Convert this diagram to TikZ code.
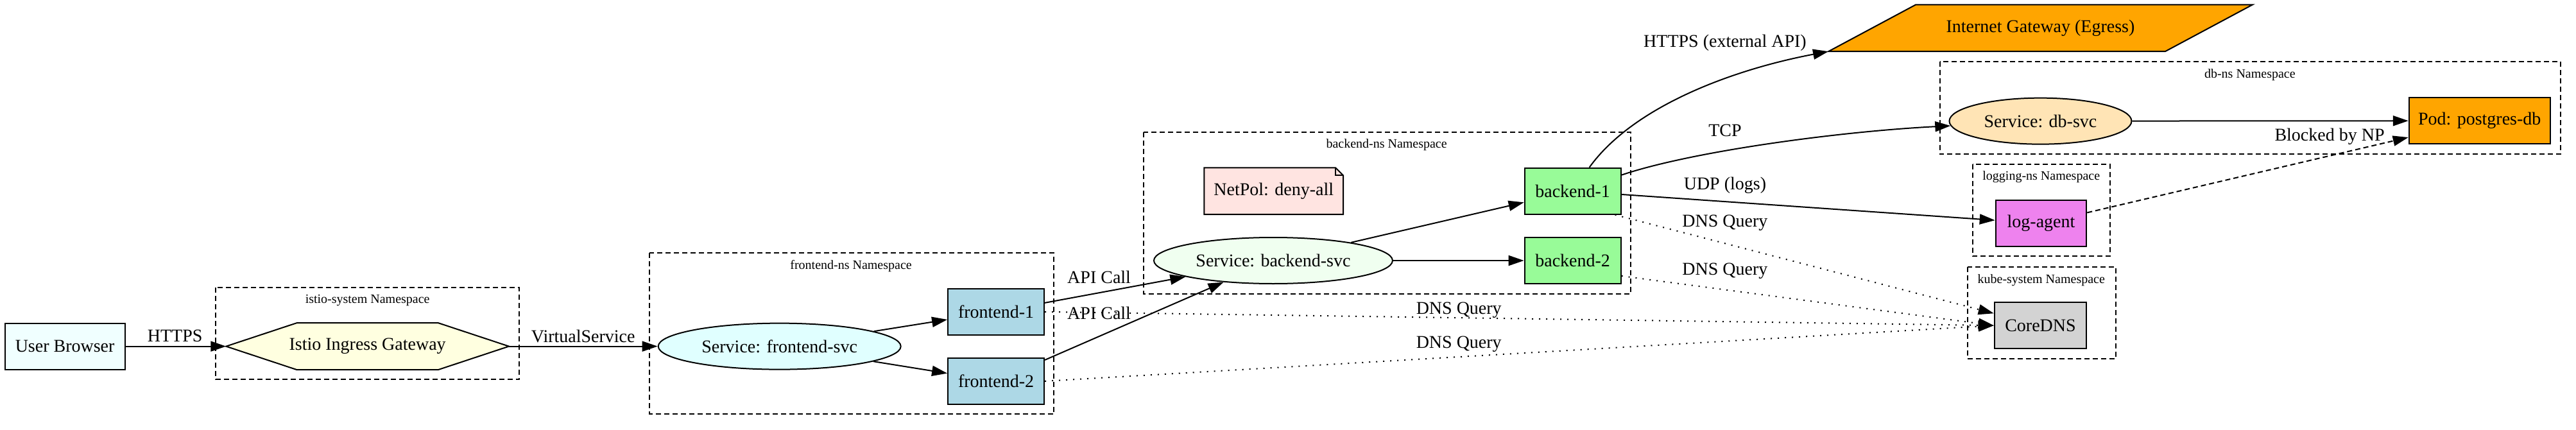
\documentclass[tikz,border=0pt]{standalone}
\usepackage{fontspec}
\setmainfont{Liberation Serif}
\usetikzlibrary{arrows.meta,shapes.geometric,backgrounds}
\definecolor{cAzure}{HTML}{F0FFFF}
\definecolor{cLYellow}{HTML}{FFFFE0}
\definecolor{cLCyan}{HTML}{E0FFFF}
\definecolor{cLBlue}{HTML}{ADD8E6}
\definecolor{cHoney}{HTML}{F0FFF0}
\definecolor{cMisty}{HTML}{FFE4E1}
\definecolor{cPGreen}{HTML}{98FB98}
\definecolor{cOrange}{HTML}{FFA500}
\definecolor{cMocc}{HTML}{FFE4B5}
\definecolor{cViolet}{HTML}{EE82EE}
\definecolor{cLGrey}{HTML}{D3D3D3}
\tikzset{
  every node/.style={font=\fontsize{14}{16}\selectfont},
  pod/.style={draw, line width=1pt, rectangle, minimum height=36pt, inner sep=2pt},
  svc/.style={draw, line width=1pt, ellipse, minimum height=36pt, inner sep=0pt},
  plain/.style={rectangle, minimum height=36pt, inner sep=2pt},
  shapeline/.style={line width=1pt},
  nsbox/.style={draw, line width=1pt, dash pattern=on 4pt off 2.5pt},
  nslabel/.style={font=\fontsize{10}{12}\selectfont, inner sep=0pt},
  elabel/.style={inner sep=0pt},
  edge/.style={line width=1pt, -{Triangle[length=12pt,width=8pt]}},
  dnsedge/.style={edge, dash pattern=on 1pt off 4.5pt},
  blockedge/.style={edge, dash pattern=on 4pt off 2.5pt},
}
\begin{document}
\begin{tikzpicture}[x=1.28pt, y=-1.28pt]
\useasboundingbox (0,0) rectangle (1568,261.7);

% namespaces
\draw[nsbox] (131.3,175) rectangle (316,231);
\node[nslabel] (lIstio) at (223.7,183) {istio-system Namespace};
\draw[nsbox] (395.5,154) rectangle (641.5,252);
\node[nslabel] (lFront) at (518,162) {frontend-ns Namespace};
\draw[nsbox] (696,80.3) rectangle (992.5,178.8);
\node[nslabel] (lBack) at (844,88.3) {backend-ns Namespace};
\draw[nsbox] (1180.7,37.4) rectangle (1558.6,93.8);
\node[nslabel] (lDb) at (1369.5,45.5) {db-ns Namespace};
\draw[nsbox] (1200.8,99.9) rectangle (1284.4,156);
\node[nslabel] (lLog) at (1242.5,107.7) {logging-ns Namespace};
\draw[nsbox] (1197.5,162.4) rectangle (1287.8,218.2);
\node[nslabel] (lKube) at (1242.5,170.6) {kube-system Namespace};

% nodes
\node[pod, fill=cAzure, minimum width=93.5pt] (ub) at (39.5,210.8) {User Browser};
\node[plain, minimum width=220pt] (igw) at (223.7,210.8) {Istio Ingress Gateway};
\node[svc, fill=cLCyan, minimum width=189pt] (fsvc) at (474.5,210.8) {Service: frontend-svc};
\node[pod, fill=cLBlue, minimum width=75pt] (f1) at (606.3,189.8) {frontend-1};
\node[pod, fill=cLBlue, minimum width=75pt] (f2) at (606.3,232) {frontend-2};
\node[plain, minimum width=108pt] (netpol) at (775.3,116.3) {NetPol: deny-all};
\node[svc, fill=cHoney, minimum width=186pt] (bsvc) at (775,158.6) {Service: backend-svc};
\node[pod, fill=cPGreen, minimum width=75pt] (b1) at (957.3,116.3) {backend-1};
\node[pod, fill=cPGreen, minimum width=75pt] (b2) at (957.3,158.6) {backend-2};
\node[plain, minimum width=330pt] (inet) at (1242,17.1) {Internet Gateway (Egress)};
\node[svc, fill=cMocc, minimum width=142pt] (dbsvc) at (1242,73.7) {Service: db-svc};
\node[pod, fill=cOrange, minimum width=110pt] (pg) at (1509.3,73.5) {Pod: postgres-db};
\node[pod, fill=cViolet, minimum width=70.8pt] (log) at (1242.4,136) {log-agent};
\node[pod, fill=cLGrey, minimum width=71.7pt] (dns) at (1242,198.1) {CoreDNS};

% special shapes
\begin{scope}[on background layer]
\filldraw[shapeline, fill=cLYellow] (igw.west) -- ([xshift=55pt]igw.north west) -- ([xshift=-55pt]igw.north east) -- (igw.east) -- ([xshift=-55pt]igw.south east) -- ([xshift=55pt]igw.south west) -- cycle;
\filldraw[shapeline, fill=cMisty] (netpol.south west) -- (netpol.north west) -- ([xshift=-6pt]netpol.north east) -- ([yshift=-6pt]netpol.north east) -- (netpol.south east) -- cycle;
\filldraw[shapeline, fill=cOrange] (inet.south west) -- ([xshift=68pt]inet.north west) -- (inet.north east) -- ([xshift=-68pt]inet.south east) -- cycle;
\end{scope}
\draw[shapeline] ([xshift=-6pt]netpol.north east) -- ([xshift=-6pt,yshift=-6pt]netpol.north east) -- ([yshift=-6pt]netpol.north east);

% edges
\draw[edge] (ub) -- (igw.west);
\draw[edge] (igw.east) -- (fsvc);
\draw[edge] (fsvc) -- (f1);
\draw[edge] (fsvc) -- (f2);
\draw[edge] (f1) -- (bsvc);
\draw[edge] (f2) -- (bsvc);
\draw[dnsedge] (f1.east) -- (dns.west);
\draw[dnsedge] (f2.east) -- (dns.west);
\draw[edge] (bsvc) -- (b1);
\draw[edge] (bsvc) -- (b2);
\draw[edge] ([xshift=13pt]b1.north) .. controls (994,65) and (1054,42.5) .. (inet.south west);
\draw[edge] ([yshift=12.5pt]b1.east) .. controls (1030,92) and (1120,80) .. (dbsvc.183);
\draw[edge] (b1) -- (log);
\draw[dnsedge] ([xshift=-5pt]b1.south east) -- (dns);
\draw[dnsedge] ([yshift=-12pt]b2.east) -- (dns.west);
\draw[edge] (dbsvc) -- (pg);
\draw[blockedge] (log) -- (pg);

% edge labels
\node[elabel] (tHttps) at (106.5,204.5) {HTTPS};
\node[elabel] (tVs) at (355,204.5) {VirtualService};
\node[elabel] (tApi1) at (669,168.6) {API Call};
\node[elabel] (tApi2) at (669,190.7) {API Call};
\node[elabel] (tDnsF1) at (888,188.8) {DNS Query};
\node[elabel] (tDnsF2) at (888,209.6) {DNS Query};
\node[elabel] (tExt) at (1050,26) {HTTPS (external API)};
\node[elabel] (tTcp) at (1050,79.4) {TCP};
\node[elabel] (tUdp) at (1050,113) {UDP (logs)};
\node[elabel] (tDnsB1) at (1050,135.5) {DNS Query};
\node[elabel] (tDnsB2) at (1050,165) {DNS Query};
\node[elabel] (tBlock) at (1418,83) {Blocked by NP};
\end{tikzpicture}
\end{document}
